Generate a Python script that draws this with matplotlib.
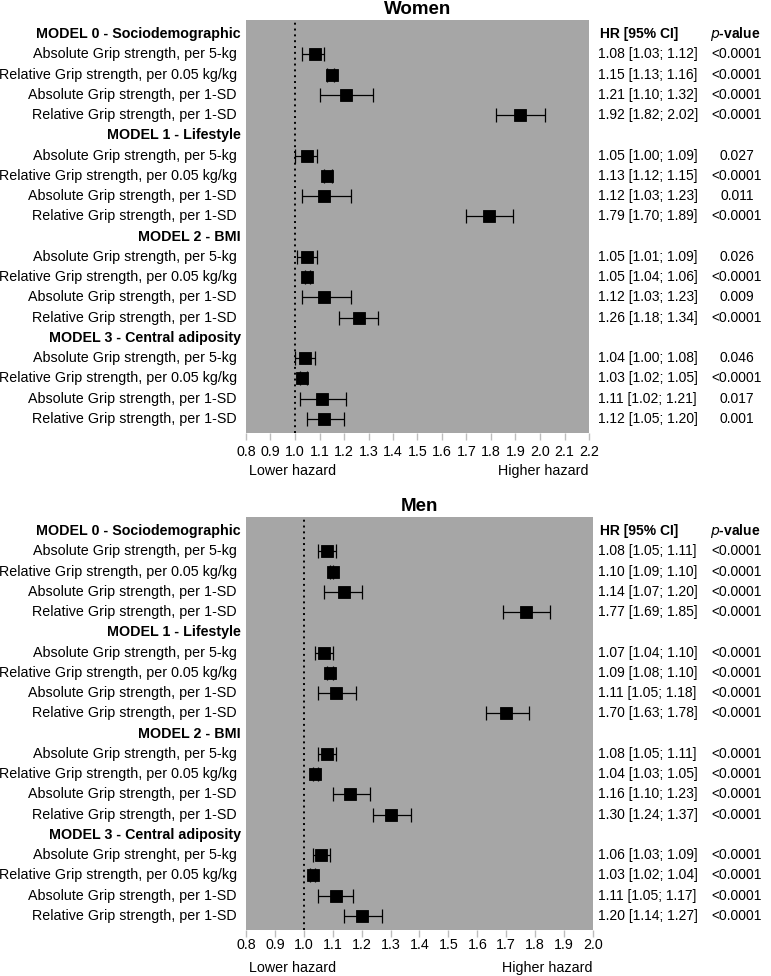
import matplotlib
matplotlib.use('Agg')
import matplotlib.pyplot as plt
from matplotlib.transforms import blended_transform_factory

plt.rcParams['font.family'] = ['Liberation Sans', 'DejaVu Sans']

headers = ["MODEL 0 - Sociodemographic", "MODEL 1 - Lifestyle",
           "MODEL 2 - BMI", "MODEL 3 - Central adiposity"]
items_women = ["Absolute Grip strength, per 5-kg",
               "Relative Grip strength, per 0.05 kg/kg",
               "Absolute Grip strength, per 1-SD",
               "Relative Grip strength, per 1-SD"]
items_men_m3 = ["Absolute Grip strenght, per 5-kg",
                "Relative Grip strength, per 0.05 kg/kg",
                "Absolute Grip strength, per 1-SD",
                "Relative Grip strength, per 1-SD"]

# Women
w_hr = [1.08, 1.15, 1.21, 1.92, 1.05, 1.13, 1.12, 1.79,
        1.05, 1.05, 1.12, 1.26, 1.04, 1.03, 1.11, 1.12]
w_lo = [1.03, 1.13, 1.10, 1.82, 1.00, 1.12, 1.03, 1.70,
        1.01, 1.04, 1.03, 1.18, 1.00, 1.02, 1.02, 1.05]
w_hi = [1.12, 1.16, 1.32, 2.02, 1.09, 1.15, 1.23, 1.89,
        1.09, 1.06, 1.23, 1.34, 1.08, 1.05, 1.21, 1.20]
w_p = ["<0.0001", "<0.0001", "<0.0001", "<0.0001",
       "0.027", "<0.0001", "0.011", "<0.0001",
       "0.026", "<0.0001", "0.009", "<0.0001",
       "0.046", "<0.0001", "0.017", "0.001"]

# Men
m_hr = [1.08, 1.10, 1.14, 1.77, 1.07, 1.09, 1.11, 1.70,
        1.08, 1.04, 1.16, 1.30, 1.06, 1.03, 1.11, 1.20]
m_lo = [1.05, 1.09, 1.07, 1.69, 1.04, 1.08, 1.05, 1.63,
        1.05, 1.03, 1.10, 1.24, 1.03, 1.02, 1.05, 1.14]
m_hi = [1.11, 1.10, 1.20, 1.85, 1.10, 1.10, 1.18, 1.78,
        1.11, 1.05, 1.23, 1.37, 1.09, 1.04, 1.17, 1.27]
m_p = ["<0.0001"] * 16

W, H = 771, 976
fig = plt.figure(figsize=(W / 100, H / 100), dpi=100)
FS = 10.3
FS_HR = 10


def panel(title, rect_px, xmax, hr, lo, hi, pv, last_items, tick_pad):
    l, t, r, b = rect_px
    ax = fig.add_axes([l / W, 1 - b / H, (r - l) / W, (b - t) / H])
    ax.set_facecolor('#a6a6a6')
    for s in ax.spines.values():
        s.set_visible(False)
    ax.set_xlim(0.8, xmax)
    ax.set_ylim(19.7, -0.7)
    ticks = [round(0.8 + 0.1 * i, 1) for i in range(int(round((xmax - 0.8) / 0.1)) + 1)]
    ax.set_xticks(ticks)
    ax.set_xticklabels(["%.1f" % v for v in ticks], fontsize=10.3)
    ax.tick_params(axis='x', color='#bdbdbd', length=5, width=1, pad=tick_pad)
    ax.set_yticks([])
    ax.axvline(1.0, color='black', linestyle=(0, (1, 2)), linewidth=1.4)

    tr = blended_transform_factory(fig.transFigure, ax.transData)
    rows = []
    k = 0
    for g in range(4):
        row = g * 5
        ax.text(241 / W, row, headers[g], transform=tr, ha='right', va='center',
                fontsize=FS, fontweight='bold')
        labels = last_items if g == 3 else items_women
        for j in range(4):
            row += 1
            rows.append(row)
            ax.text(237 / W, row, labels[j], transform=tr, ha='right', va='center',
                    fontsize=FS)
            ax.text(598 / W, row, "%.2f [%.2f; %.2f]" % (hr[k], lo[k], hi[k]),
                    transform=tr, ha='left', va='center', fontsize=FS_HR)
            ax.text(737 / W, row, pv[k], transform=tr, ha='center', va='center',
                    fontsize=FS_HR)
            k += 1
    xerr = [[h - a for h, a in zip(hr, lo)], [c - h for h, c in zip(hr, hi)]]
    ax.errorbar(hr, rows, xerr=xerr, fmt='none', ecolor='black', elinewidth=0.9,
                capsize=5, capthick=0.9, zorder=3)
    ax.plot(hr, rows, 's', color='black', markersize=8, markeredgewidth=0.6,
            zorder=4)
    ax.text(600 / W, 0, "HR [95% CI]", transform=tr, ha='left', va='center',
            fontsize=FS_HR, fontweight='bold')
    ax.text(735 / W, 0, "$\\bf{\\it{p}}$-value", transform=tr, ha='center', va='center',
            fontsize=FS_HR, fontweight='bold')
    ax.set_title(title, fontsize=13.5, fontweight='bold', pad=4)
    ax.text(0.01, -0.092, "Lower hazard", transform=ax.transAxes, ha='left',
            va='center', fontsize=FS)
    ax.text(1.0, -0.092, "Higher hazard", transform=ax.transAxes, ha='right',
            va='center', fontsize=FS)
    return ax


panel("Women", (246, 20, 589, 433), 2.2, w_hr, w_lo, w_hi, w_p, items_women, 4)
panel("Men", (246, 517, 593, 930), 2.0, m_hr, m_lo, m_hi, m_p, items_men_m3, 1)

fig.savefig("out.png", dpi=100)
